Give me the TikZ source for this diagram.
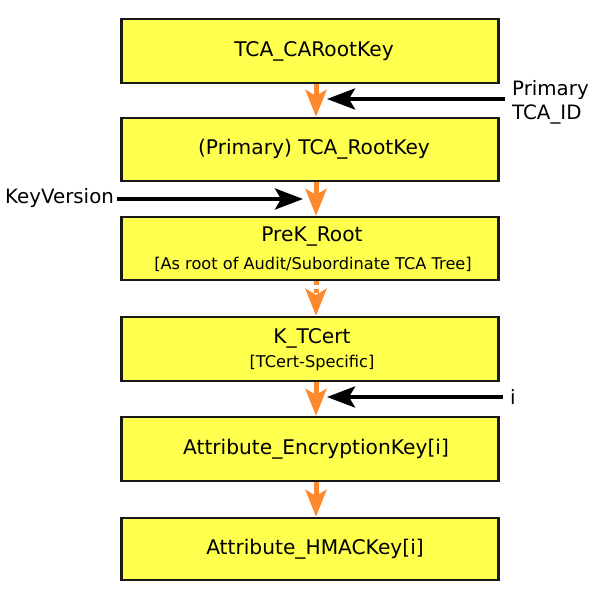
\documentclass[tikz,border=0pt]{standalone}
\usepackage{fontspec}
\setmainfont{DejaVu Sans}
\usetikzlibrary{arrows.meta}
\definecolor{boxyellow}{RGB}{255,255,77}
\definecolor{arrorange}{RGB}{255,138,46}
\begin{document}
\begin{tikzpicture}[x=1pt,y=-1pt,
  keybox/.style={draw=black!90,fill=boxyellow,line width=2.2pt,minimum width=377pt,inner sep=0pt,align=center},
  mainlbl/.style={font=\fontsize{20.2}{23}\selectfont},
  sublbl/.style={font=\fontsize{16.2}{19}\selectfont},
  flow/.style={draw=arrorange,line width=5pt,-{Stealth[length=27pt,width=21pt,inset=6pt]}},
  flowdash/.style={flow,dash pattern=on 4pt off 4pt},
  feed/.style={draw=black,line width=4pt,-{Stealth[length=28pt,width=21pt,inset=6pt]}},
  sidelbl/.style={font=\fontsize{19.8}{24}\selectfont,inner sep=0pt}]
\useasboundingbox (0,0) rectangle (608,601);
\node[keybox,minimum height=64pt] (b1) at (310,51) {};
\node[mainlbl] (t1) at (314,51) {TCA\_CARootKey};
\node[keybox,minimum height=63pt] (b2) at (310,149.5) {};
\node[mainlbl] (t2) at (314,149.5) {(Primary) TCA\_RootKey};
\node[keybox,minimum height=63pt] (b3) at (310,248.5) {};
\node[mainlbl] (t3) at (312,237) {PreK\_Root};
\node[sublbl] (s3) at (313,264) {[As root of Audit/Subordinate TCA Tree]};
\node[keybox,minimum height=64pt] (b4) at (310,349) {};
\node[mainlbl] (t4) at (312,338) {K\_TCert};
\node[sublbl] (s4) at (312,363) {[TCert-Specific]};
\node[keybox,minimum height=64pt] (b5) at (310,449) {};
\node[mainlbl] (t5) at (316,449) {Attribute\_EncryptionKey[i]};
\node[keybox,minimum height=62pt] (b6) at (310,549) {};
\node[mainlbl] (t6) at (315,549) {Attribute\_HMACKey[i]};

\draw[flow] ([xshift=6pt]b1.south) -- ([xshift=6pt]b2.north);
\draw[flow] ([xshift=6pt]b2.south) -- ([xshift=6pt]b3.north);
\draw[flowdash] ([xshift=6pt]b3.south) -- ([xshift=6pt]b4.north);
\draw[flow] ([xshift=6pt]b4.south) -- ([xshift=6pt]b5.north);
\draw[flow] ([xshift=6pt]b5.south) -- ([xshift=6pt]b6.north);

\node[sidelbl,align=left,anchor=west] (pid) at (512,102) {Primary\\TCA\_ID};
\coordinate (pidstart) at (505,99);
\coordinate (pidend) at (327,99);
\draw[feed] (pidstart) -- (pidend);

\node[sidelbl,anchor=west] (kv) at (5,198) {KeyVersion};
\coordinate (kvend) at (303,199);
\draw[feed] ([xshift=3pt,yshift=-1pt]kv.east) -- (kvend);

\node[sidelbl,anchor=west] (iv) at (510,397) {i};
\coordinate (ivstart) at (503,397);
\coordinate (ivend) at (327,397);
\draw[feed] (ivstart) -- (ivend);
\end{tikzpicture}
\end{document}
